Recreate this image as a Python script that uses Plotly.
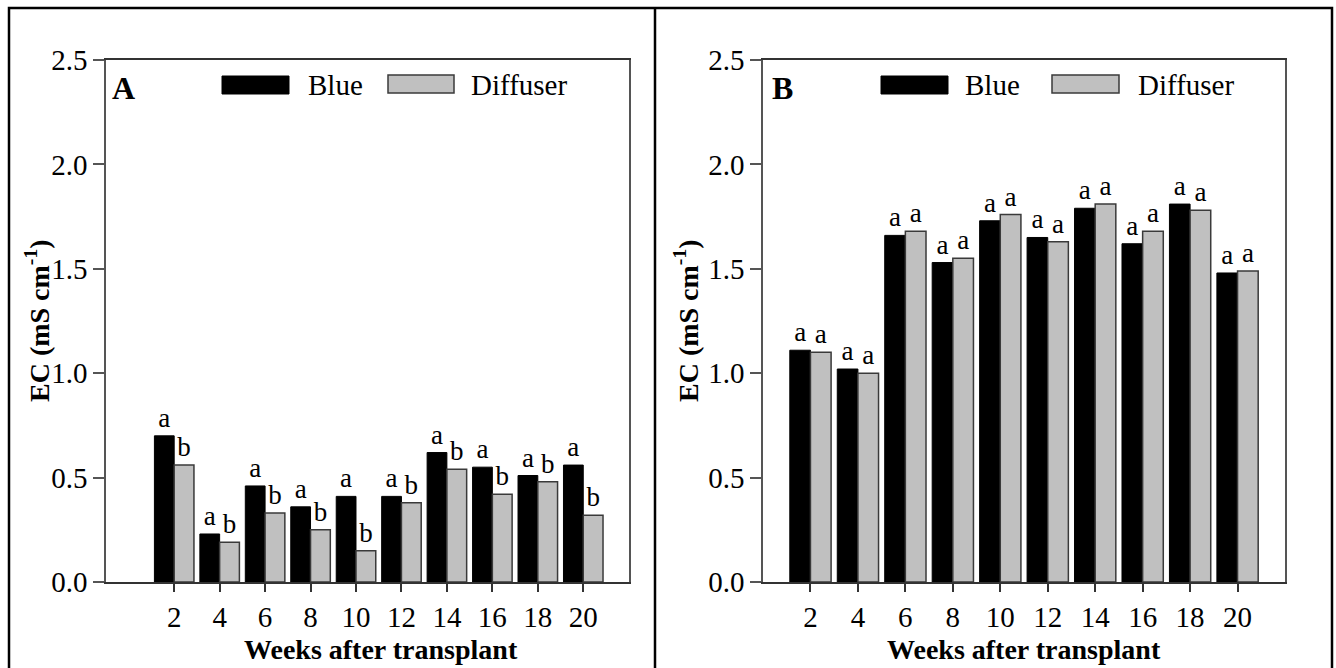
import plotly.graph_objects as go

weeks = [2, 4, 6, 8, 10, 12, 14, 16, 18, 20]
tick_labels = ["2", "4", "6", "8", "10", "12", "14", "16", "18", "20"]

a_blue = [0.70, 0.23, 0.46, 0.36, 0.41, 0.41, 0.62, 0.55, 0.51, 0.56]
a_diffuser = [0.56, 0.19, 0.33, 0.25, 0.15, 0.38, 0.54, 0.42, 0.48, 0.32]
a_blue_letters = ["a"] * 10
a_diffuser_letters = ["b"] * 10

b_blue = [1.11, 1.02, 1.66, 1.53, 1.73, 1.65, 1.79, 1.62, 1.81, 1.48]
b_diffuser = [1.10, 1.00, 1.68, 1.55, 1.76, 1.63, 1.81, 1.68, 1.78, 1.49]
b_blue_letters = ["a"] * 10
b_diffuser_letters = ["a"] * 10

series_names = ["Blue", "Diffuser"]
panel_labels = ["A", "B"]
y_title = "EC (mS cm<sup>-1</sup>)"
x_title = "Weeks after transplant"

FONT = "Liberation Serif"
W, H = 1336, 668
# plot area in page (screen) pixels
PL, PR, PT, PB = 106, 1285, 60, 582
ML, MR, MT, MB = PL, W - PR, PT, H - PB
PW = PR - PL
PH = PB - PT


def px(x):
    return (x - PL) / PW


def py(y):
    return (PB - y) / PH


BLUE_FILL = "#000000"
DIFF_FILL = "#c0c0c0"
DIFF_LINE = "#3a3a3a"

fig = go.Figure()

panels = [
    (a_blue, a_diffuser, a_blue_letters, a_diffuser_letters, "x", "y"),
    (b_blue, b_diffuser, b_blue_letters, b_diffuser_letters, "x2", "y2"),
]
for blue, diff, bl, dl, xa, ya in panels:
    fig.add_trace(go.Bar(
        x=weeks, y=blue, name=series_names[0], text=bl, textposition="outside",
        textfont=dict(family=FONT, size=27, color="black"), constraintext="none",
        cliponaxis=False, marker=dict(color=BLUE_FILL, line=dict(color="#000000", width=1)),
        offsetgroup="1", xaxis=xa, yaxis=ya, showlegend=False))
    fig.add_trace(go.Bar(
        x=weeks, y=diff, name=series_names[1], text=dl, textposition="outside",
        textfont=dict(family=FONT, size=27, color="black"), constraintext="none",
        cliponaxis=False, marker=dict(color=DIFF_FILL, line=dict(color=DIFF_LINE, width=1.5)),
        offsetgroup="2", xaxis=xa, yaxis=ya, showlegend=False))

xcommon = dict(
    tickmode="array", tickvals=weeks, ticktext=tick_labels,
    ticks="outside", ticklen=8, tickwidth=1.5, tickcolor="#333",
    showline=True, linecolor="#333", linewidth=1.5, mirror=True,
    showgrid=False, zeroline=False,
    tickfont=dict(family=FONT, size=29, color="black"),
)
ycommon = dict(
    range=[0, 2.5], dtick=0.5, tick0=0, tickformat=".1f",
    ticks="outside", ticklen=11, tickwidth=1.5, tickcolor="#555",
    showline=True, linecolor="#555", linewidth=1.5, mirror=True,
    showgrid=False, zeroline=False,
    tickfont=dict(family=FONT, size=29, color="black"),
)

fig.update_layout(
    width=W, height=H,
    margin=dict(l=ML, r=MR, t=MT, b=MB, pad=0),
    paper_bgcolor="white", plot_bgcolor="white",
    barmode="group", bargap=0.13, bargroupgap=0,
    showlegend=False,
    font=dict(family=FONT, color="black"),
    xaxis=dict(domain=[0, px(628.7)], range=[-1, 22], anchor="y", **xcommon),
    yaxis=dict(domain=[0, 1], anchor="x", **ycommon),
    xaxis2=dict(domain=[px(763), 1], range=[0, 22], anchor="y2", **xcommon),
    yaxis2=dict(domain=[0, 1], anchor="x2", **ycommon),
)

shapes = []
annotations = []

# outer frame and divider
shapes.append(dict(type="rect", xref="paper", yref="paper",
                   x0=px(9), x1=px(1332), y0=py(8), y1=py(720),
                   line=dict(color="black", width=2.5), layer="above"))
shapes.append(dict(type="line", xref="paper", yref="paper",
                   x0=px(655), x1=px(655), y0=py(8), y1=py(720),
                   line=dict(color="black", width=2.5)))

legend_specs = [
    # (box1 x0,x1, text1 x, box2 x0,x1, text2 x)
    (222, 289, 306, 388, 454, 469),
    (881, 948, 963, 1052, 1119, 1136),
]
for (b1a, b1b, t1, b2a, b2b, t2) in legend_specs:
    shapes.append(dict(type="rect", xref="paper", yref="paper",
                       x0=px(b1a), x1=px(b1b), y0=py(94), y1=py(76),
                       fillcolor=BLUE_FILL, line=dict(color="black", width=1)))
    shapes.append(dict(type="rect", xref="paper", yref="paper",
                       x0=px(b2a), x1=px(b2b), y0=py(93), y1=py(75),
                       fillcolor=DIFF_FILL, line=dict(color=DIFF_LINE, width=1.5)))
    annotations.append(dict(xref="paper", yref="paper", x=px(t1), y=py(85),
                            xanchor="left", yanchor="middle", showarrow=False,
                            text=series_names[0], font=dict(family=FONT, size=29, color="black")))
    annotations.append(dict(xref="paper", yref="paper", x=px(t2), y=py(85),
                            xanchor="left", yanchor="middle", showarrow=False,
                            text=series_names[1], font=dict(family=FONT, size=29, color="black")))

for label, lx in zip(panel_labels, [110, 770]):
    annotations.append(dict(xref="paper", yref="paper", x=px(lx), y=py(88),
                            xanchor="left", yanchor="middle", showarrow=False,
                            text="<b>%s</b>" % label, font=dict(family=FONT, size=32, color="black")))

for tx in [37, 686]:
    annotations.append(dict(xref="paper", yref="paper", x=px(tx), y=py(321),
                            xanchor="center", yanchor="middle", showarrow=False, textangle=-90,
                            text="<b>%s</b>" % y_title, font=dict(family=FONT, size=28, color="black")))

for tx in [381, 1024]:
    annotations.append(dict(xref="paper", yref="paper", x=px(tx), y=py(649),
                            xanchor="center", yanchor="middle", showarrow=False,
                            text="<b>%s</b>" % x_title, font=dict(family=FONT, size=28, color="black")))

fig.update_layout(shapes=shapes, annotations=annotations)

fig.write_html(
    "out.html",
    config={"displayModeBar": False},
    post_script="document.body.style.margin='0';document.body.style.overflow='hidden';",
)
